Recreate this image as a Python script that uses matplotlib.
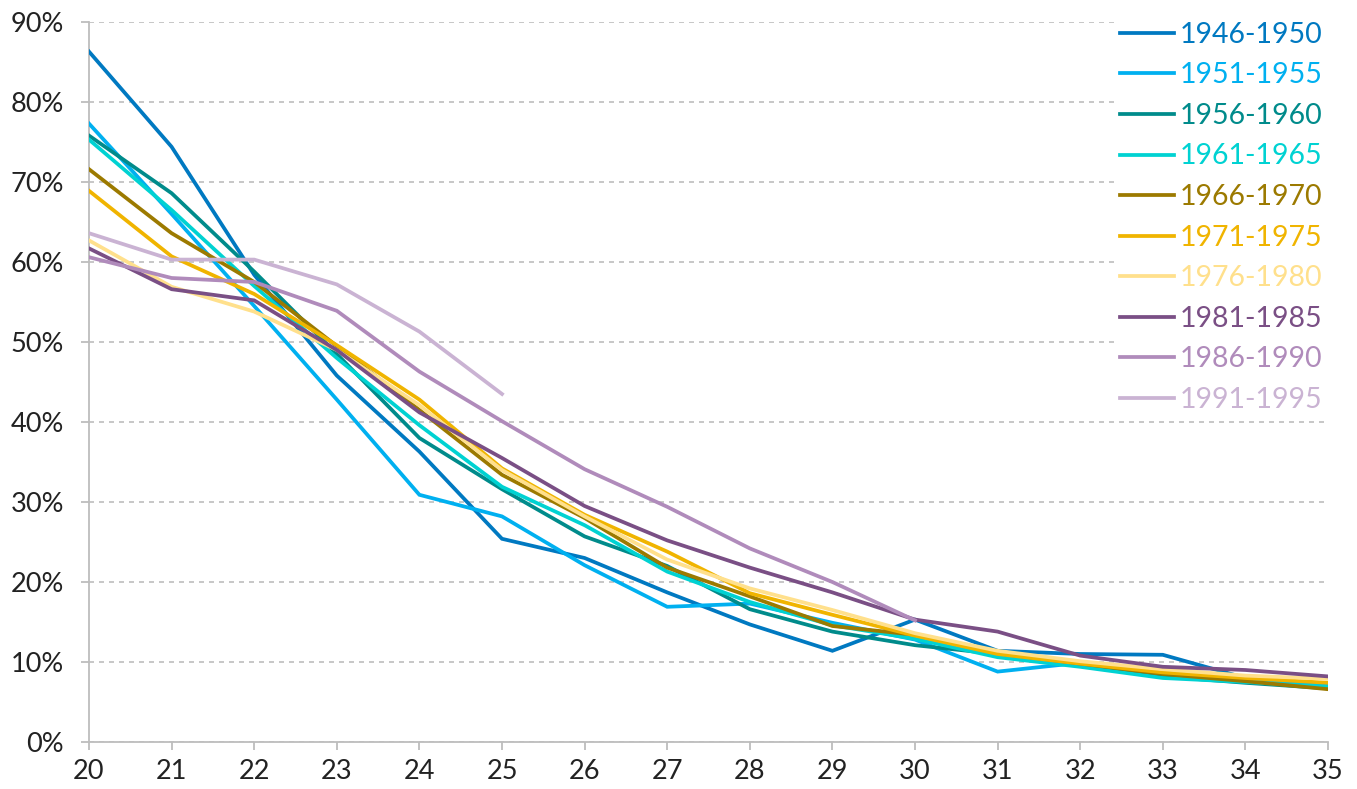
import numpy as np
import matplotlib.pyplot as plt
from matplotlib.ticker import FuncFormatter

plt.rcParams['font.family'] = ['Lato', 'DejaVu Sans']

ages = np.arange(20, 36)

labels = ['1946-1950', '1951-1955', '1956-1960', '1961-1965', '1966-1970',
          '1971-1975', '1976-1980', '1981-1985', '1986-1990', '1991-1995']
colours = ['#0079C1', '#00B0F0', '#008B8B', '#00D2D2', '#9C7A00',
           '#F0B400', '#FFE08C', '#7A4F85', '#B08BBB', '#CAB3D3']

# share of each cohort (%) by age
c1946 = [86.3, 74.4, 58.4, 45.8, 36.3, 25.4, 23.0, 18.7, 14.7, 11.4, 15.3, 11.4, 11.0, 10.9, 8.0, 6.8]
c1951 = [77.3, 66.0, 54.5, 42.8, 30.9, 28.2, 22.1, 16.9, 17.3, 14.9, 12.8, 8.8, 9.9, 8.3, 7.6, 7.1]
c1956 = [75.8, 68.6, 58.8, 48.5, 38.0, 31.6, 25.7, 22.0, 16.6, 13.8, 12.1, 11.0, 9.5, 8.2, 7.4, 6.7]
c1961 = [75.3, 66.5, 57.0, 48.0, 39.6, 31.9, 27.1, 21.3, 17.5, 14.6, 12.9, 10.6, 9.4, 8.0, 7.5, 6.9]
c1966 = [71.6, 63.6, 57.5, 49.5, 41.5, 33.4, 28.0, 21.8, 18.2, 14.5, 13.4, 11.1, 9.8, 8.5, 7.6, 6.6]
c1971 = [68.9, 60.7, 56.0, 49.6, 42.8, 34.2, 28.4, 23.8, 18.6, 15.9, 13.3, 11.0, 9.8, 8.7, 8.0, 7.4]
c1976 = [62.7, 56.9, 53.8, 49.0, 42.1, 34.0, 28.2, 22.8, 19.2, 16.5, 13.6, 11.4, 10.1, 9.1, 8.3, 7.9]
c1981 = [61.7, 56.6, 55.2, 49.0, 41.2, 35.5, 29.5, 25.2, 21.8, 18.7, 15.3, 13.8, 10.8, 9.4, 9.0, 8.2]
c1986 = [60.6, 58.0, 57.5, 53.9, 46.3, 40.1, 34.1, 29.4, 24.2, 20.0, 15.2]
c1991 = [63.6, 60.3, 60.3, 57.2, 51.3, 43.5]

series = [c1946, c1951, c1956, c1961, c1966, c1971, c1976, c1981, c1986, c1991]

fig = plt.figure(figsize=(13.57, 7.89), dpi=100)
ax = fig.add_axes([89 / 1357, 1 - 742 / 789, (1328 - 89) / 1357, (742 - 22) / 789])

for vals, lab, col in zip(series, labels, colours):
    ax.plot(ages[:len(vals)], vals, color=col, lw=2.7, label=lab,
            solid_joinstyle='miter', zorder=3)

ax.set_xlim(20, 35)
ax.set_ylim(0, 90)
ax.set_xticks(ages)
ax.set_yticks(np.arange(0, 91, 10))
ax.yaxis.set_major_formatter(FuncFormatter(lambda v, p: '%d%%' % v))
ax.grid(axis='y', color='#BDBDBD', ls=(0, (3, 3)), lw=1.2, zorder=1)

for s in ['top', 'right']:
    ax.spines[s].set_visible(False)
for s in ['left', 'bottom']:
    ax.spines[s].set_color('#BDBDBD')
    ax.spines[s].set_linewidth(1.3)
ax.tick_params(axis='both', colors='#BDBDBD', labelcolor='#222222',
               labelsize=19.5, length=6, width=1.3)
ax.tick_params(axis='x', pad=6)
ax.tick_params(axis='y', pad=12)

leg = ax.legend(loc='upper right', bbox_to_anchor=(1.0, 1.008), fontsize=20.5,
                frameon=True, facecolor='white', edgecolor='none', framealpha=1,
                fancybox=False, handlelength=1.9, handletextpad=0.2,
                labelspacing=0.51, borderpad=0.2, borderaxespad=0,
                labelcolor='linecolor')
leg.set_zorder(5)

fig.savefig('out.png', dpi=100)
